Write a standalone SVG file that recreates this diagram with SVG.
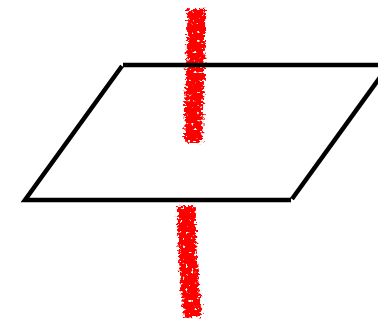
<svg xmlns="http://www.w3.org/2000/svg" width="378" height="322" viewBox="0 0 378 322">
  <defs>
    <filter id="rough" filterUnits="userSpaceOnUse" x="150" y="0" width="90" height="322">
      <feTurbulence type="fractalNoise" baseFrequency="0.3 0.5" numOctaves="2" seed="3" result="n"/>
      <feDisplacementMap in="SourceGraphic" in2="n" scale="10" xChannelSelector="R" yChannelSelector="G" result="d"/>
      <feTurbulence type="fractalNoise" baseFrequency="0.35" numOctaves="1" seed="8" result="s"/>
      <feColorMatrix in="s" type="matrix" values="0 0 0 0 0  0 0 0 0 0  0 0 0 0 0  0 0 0 -14 10.2" result="mask"/>
      <feComposite in="d" in2="mask" operator="in"/>
    </filter>
  </defs>
  <style>
    .line { fill: none; stroke: #ff0000; stroke-width: 18; stroke-linecap: butt; filter: url(#rough); }
    .plane { fill: none; stroke: #000; stroke-width: 4.5; stroke-linecap: butt; }
  </style>
  <rect width="378" height="322" fill="#fff"/>
  <g id="line">
    <path class="line" d="M196,9 C197,45 194,95 193,142"/>
    <path class="line" d="M187,206 C186,250 190,290 193,317"/>
  </g>
  <g id="plane">
    <path class="plane" d="M123,65 L380,65"/>
    <path class="plane" d="M122,66 L25,200 L291,200"/>
    <path class="plane" d="M292,199 L389,65"/>
  </g>
</svg>
